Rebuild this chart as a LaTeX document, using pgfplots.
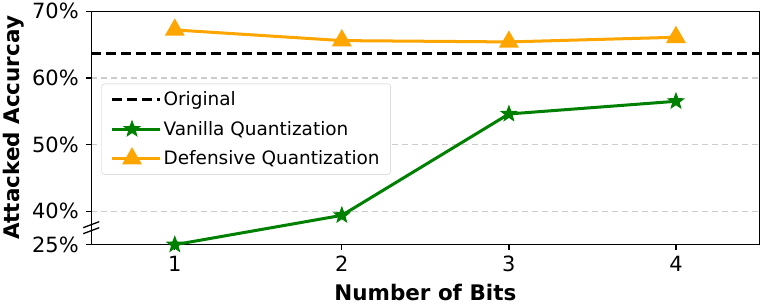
\documentclass[border=0pt]{standalone}
\usepackage{pgfplots}
\pgfplotsset{compat=1.18}
\usepackage{fontspec}
\setmainfont{DejaVu Sans}
\definecolor{mgreen}{RGB}{0,128,0}
\definecolor{morange}{RGB}{255,165,0}
\definecolor{gridgray}{RGB}{204,204,204}
\pgfdeclareplotmark{fstar}{%
  \pgfpathmoveto{\pgfpointpolar{90}{\pgfplotmarksize}}%
  \pgfpathlineto{\pgfpointpolar{126}{0.42\pgfplotmarksize}}%
  \pgfpathlineto{\pgfpointpolar{162}{\pgfplotmarksize}}%
  \pgfpathlineto{\pgfpointpolar{198}{0.42\pgfplotmarksize}}%
  \pgfpathlineto{\pgfpointpolar{234}{\pgfplotmarksize}}%
  \pgfpathlineto{\pgfpointpolar{270}{0.42\pgfplotmarksize}}%
  \pgfpathlineto{\pgfpointpolar{306}{\pgfplotmarksize}}%
  \pgfpathlineto{\pgfpointpolar{342}{0.42\pgfplotmarksize}}%
  \pgfpathlineto{\pgfpointpolar{18}{\pgfplotmarksize}}%
  \pgfpathlineto{\pgfpointpolar{54}{0.42\pgfplotmarksize}}%
  \pgfpathclose
  \pgfusepathqfillstroke}
\begin{document}
\begin{tikzpicture}[x=1bp,y=1bp]
\begin{axis}[
  scale only axis,
  width=667bp, height=233bp,
  xmin=0.5, xmax=4.5,
  ymin=35, ymax=70,
  xtick={1,2,3,4},
  ytick={35,40,50,60,70},
  yticklabels={25\%,40\%,50\%,60\%,70\%},
  /pgf/number format/assume math mode=true,
  tick label style={font=\fontsize{21}{24}\selectfont},
  yticklabel style={xshift=-4bp},
  xticklabel style={yshift=-3bp},
  xlabel={\textbf{Number of Bits}},
  ylabel={\textbf{Attacked Accurcay}},
  label style={font=\fontsize{21.5}{24}\selectfont},
  xlabel style={yshift=-5bp},
  ylabel style={yshift=1bp},
  tick align=outside,
  xtick pos=bottom, ytick pos=left,
  major tick length=5bp,
  tick style={line width=1.2bp, black},
  axis line style={line width=1.3bp},
  ymajorgrids,
  grid style={dashed, gridgray, line width=1.3bp, dash pattern=on 6bp off 4bp},
  legend style={at={(0.015,0.69)}, anchor=north west, draw=gridgray, rounded corners=3bp,
    font=\fontsize{18.5}{21}\selectfont, row sep=10bp, inner xsep=9bp, inner ysep=6bp},
  legend cell align=left,
  legend image code/.code={\draw[#1] (0bp,0bp) -- (40bp,0bp); \draw[#1, mark repeat=1] plot coordinates {(20bp,0bp)}; \path (0bp,0bp) -- (48bp,0bp);},
  clip=false,
]
\addplot[black, line width=3bp, dash pattern=on 10bp off 5bp] coordinates {(0.5,63.6) (4.5,63.6)};
\addlegendentry{Original}
\addplot[mgreen, line width=3bp, mark=fstar, mark size=8bp, mark options={solid, line width=1bp}] coordinates {(1,35) (2,39.4) (3,54.6) (4,56.5)};
\addlegendentry{Vanilla Quantization}
\addplot[morange, line width=3bp, mark=triangle*, mark size=8.5bp, mark options={solid}] coordinates {(1,67.2) (2,65.6) (3,65.4) (4,66.1)};
\addlegendentry{Defensive Quantization}
\draw[line width=1.3bp] ([xshift=-8bp,yshift=-4bp]rel axis cs:0,0.09) -- ([xshift=8bp,yshift=2bp]rel axis cs:0,0.09);
\draw[line width=1.3bp] ([xshift=-8bp,yshift=-10bp]rel axis cs:0,0.09) -- ([xshift=8bp,yshift=-4bp]rel axis cs:0,0.09);
\end{axis}
\end{tikzpicture}
\end{document}
